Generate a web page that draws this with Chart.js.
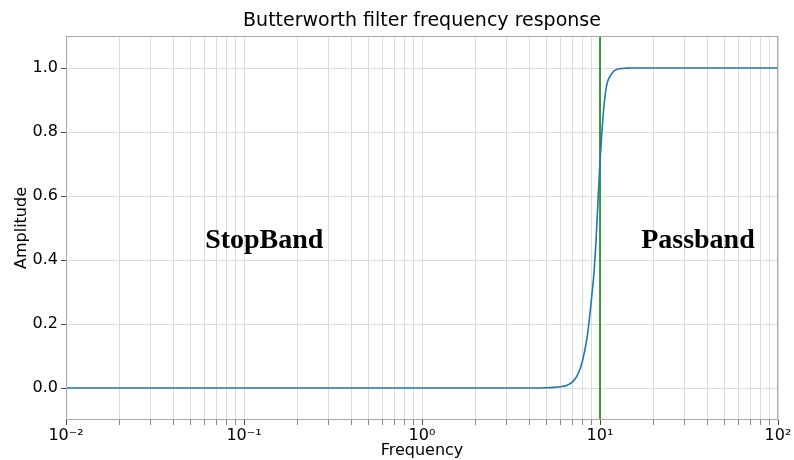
<!DOCTYPE html>
<html>
<head>
<meta charset="utf-8">
<title>Butterworth filter frequency response</title>
<script src="https://cdn.jsdelivr.net/npm/chart.js@4.4.1/dist/chart.umd.min.js"></script>
<style>
  html, body { margin: 0; padding: 0; background: #fff; }
  #wrap { width: 794px; height: 460px; }
</style>
</head>
<body>
<div id="wrap"><canvas id="chartCanvas" width="794" height="460"></canvas></div>
<script>
// Frequency response samples (Hz) and amplitude of the high-pass filter
const freq = [0.01, 0.1, 1, 3, 5, 5.5, 6, 6.5, 7, 7.5, 8, 8.5, 9, 9.25, 9.5, 9.75,
  10, 10.25, 10.5, 10.75, 11, 11.5, 12, 12.5, 13, 14, 15, 20, 50, 100];
const amplitude = [0, 0, 0, 0, 0.001, 0.002, 0.004, 0.008, 0.019, 0.042, 0.088, 0.165, 0.29, 0.36, 0.46, 0.59,
  0.707, 0.80, 0.875, 0.925, 0.955, 0.978, 0.991, 0.996, 0.998, 0.9995, 1, 1, 1, 1];

// Cutoff marker
const cutoffX = [10, 10];
const cutoffY = [-0.1, 1.1];

// Axis ticks
const xMajorTicks = [0.01, 0.1, 1, 10, 100];
const xTickLabels = ['10\u207B\u00B2', '10\u207B\u00B9', '10\u2070', '10\u00B9', '10\u00B2'];
const yTicks = [0, 0.2, 0.4, 0.6, 0.8, 1.0];
const yTickLabels = ['0.0', '0.2', '0.4', '0.6', '0.8', '1.0'];

// Region annotations
const bandLabels = ['StopBand', 'Passband'];
const bandX = [0.13, 35.5];
const bandY = [0.46, 0.46];

// minor ticks 1..9 per decade, plus the final decade
const xAllTicks = [];
for (let d = 0; d < xMajorTicks.length - 1; d++) {
  for (let m = 1; m <= 9; m++) {
    xAllTicks.push(+(m * xMajorTicks[d]).toPrecision(6));
  }
}
xAllTicks.push(xMajorTicks[xMajorTicks.length - 1]);

function majorIndex(v) {
  return xMajorTicks.findIndex((t) => Math.abs(t - v) / t < 1e-6);
}

const FONT = "'DejaVu Sans', sans-serif";

const decorations = {
  id: 'decorations',
  afterDatasetsDraw(chart) {
    const { ctx, chartArea, scales } = chart;
    ctx.save();
    // plot frame
    ctx.strokeStyle = '#a8a8a8';
    ctx.lineWidth = 1;
    ctx.strokeRect(chartArea.left + 0.5, chartArea.top + 0.5,
      chartArea.right - chartArea.left - 1, chartArea.bottom - chartArea.top - 1);
    // band labels
    ctx.fillStyle = '#000';
    ctx.font = "bold 28px 'Liberation Serif', 'Times New Roman', serif";
    ctx.textAlign = 'center';
    ctx.textBaseline = 'middle';
    bandLabels.forEach((txt, i) => {
      ctx.fillText(txt, scales.x.getPixelForValue(bandX[i]), scales.y.getPixelForValue(bandY[i]));
    });
    ctx.restore();
  },
  afterDraw(chart) {
    const { ctx, chartArea } = chart;
    ctx.save();
    ctx.fillStyle = '#000';
    ctx.font = '19px ' + FONT;
    ctx.textAlign = 'center';
    ctx.textBaseline = 'middle';
    ctx.fillText('Butterworth filter frequency response', (chartArea.left + chartArea.right) / 2, 21);
    ctx.restore();
  }
};

new Chart(document.getElementById('chartCanvas').getContext('2d'), {
  type: 'line',
  data: {
    datasets: [
      {
        data: freq.map((f, i) => ({ x: f, y: amplitude[i] })),
        borderColor: '#1f77b4',
        borderWidth: 1.6,
        pointRadius: 0,
        cubicInterpolationMode: 'monotone',
        fill: false
      },
      {
        data: cutoffX.map((f, i) => ({ x: f, y: cutoffY[i] })),
        borderColor: '#008000',
        borderWidth: 1.5,
        pointRadius: 0,
        fill: false
      }
    ]
  },
  options: {
    responsive: false,
    animation: false,
    layout: { padding: { top: 36, right: 16, left: 0, bottom: 0 } },
    plugins: {
      legend: { display: false },
      tooltip: { enabled: false }
    },
    scales: {
      x: {
        type: 'logarithmic',
        min: 0.01,
        max: 100,
        afterBuildTicks(scale) {
          scale.ticks = xAllTicks.map((v) => ({ value: v, major: majorIndex(v) >= 0 }));
        },
        afterFit(scale) { scale.height = 40; },
        ticks: {
          autoSkip: false,
          maxRotation: 0,
          padding: 1,
          color: '#000',
          font: { family: FONT, size: 16 },
          callback(value) {
            const i = majorIndex(value);
            return i >= 0 ? xTickLabels[i] : '';
          }
        },
        grid: {
          color: '#dcdcdc',
          lineWidth: 1,
          tickLength: 5,
          tickColor: (c) => (c.tick && majorIndex(c.tick.value) >= 0 ? '#444' : '#888')
        },
        border: { display: false },
        title: {
          display: true,
          text: 'Frequency',
          color: '#000',
          font: { family: FONT, size: 16 },
          padding: { top: 0, bottom: 0 }
        }
      },
      y: {
        type: 'linear',
        min: -0.1,
        max: 1.1,
        afterBuildTicks(scale) {
          scale.ticks = yTicks.map((v) => ({ value: v }));
        },
        afterFit(scale) { scale.width = 66; },
        ticks: {
          padding: 3,
          color: '#000',
          font: { family: FONT, size: 16 },
          callback(value) {
            const i = yTicks.findIndex((t) => Math.abs(t - value) < 1e-9);
            return i >= 0 ? yTickLabels[i] : '';
          }
        },
        grid: { color: '#dcdcdc', lineWidth: 1, tickLength: 5, tickColor: '#444' },
        border: { display: false },
        title: {
          display: true,
          text: 'Amplitude',
          color: '#000',
          font: { family: FONT, size: 16 },
          padding: { top: 12, bottom: 0 }
        }
      }
    }
  },
  plugins: [decorations]
});
</script>
</body>
</html>
